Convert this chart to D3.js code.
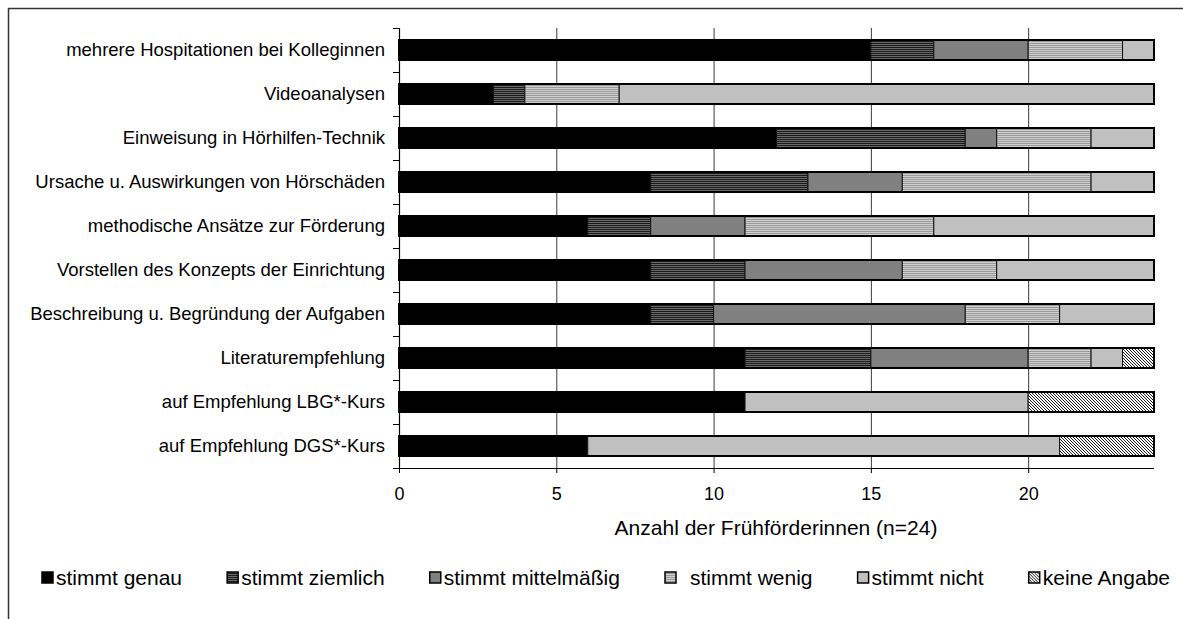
<!DOCTYPE html>
<html>
<head>
<meta charset="utf-8">
<script src="https://cdn.jsdelivr.net/npm/d3@7"></script>
<style>
  html, body { margin: 0; padding: 0; background: #fff; }
  svg { display: block; font-family: "Liberation Sans", Arial, sans-serif; }
</style>
</head>
<body>
<svg id="chart" width="1183" height="619"></svg>
<script>
// Items of the survey (top to bottom)
const categories = [
  "mehrere Hospitationen bei Kolleginnen",
  "Videoanalysen",
  "Einweisung in Hörhilfen-Technik",
  "Ursache u. Auswirkungen von Hörschäden",
  "methodische Ansätze zur Förderung",
  "Vorstellen des Konzepts der Einrichtung",
  "Beschreibung u. Begründung der Aufgaben",
  "Literaturempfehlung",
  "auf Empfehlung LBG*-Kurs",
  "auf Empfehlung DGS*-Kurs"
];

// Answer levels (stacking order, left to right)
const seriesNames = ["stimmt genau", "stimmt ziemlich", "stimmt mittelmäßig", "stimmt wenig", "stimmt nicht", "keine Angabe"];

// Counts per answer level, one value per category
const stimmtGenau      = [15,  3, 12,  8,  6,  8,  8, 11, 11,  6];
const stimmtZiemlich   = [ 2,  1,  6,  5,  2,  3,  2,  4,  0,  0];
const stimmtMittel     = [ 3,  0,  1,  3,  3,  5,  8,  5,  0,  0];
const stimmtWenig      = [ 3,  3,  3,  6,  6,  3,  3,  2,  0,  0];
const stimmtNicht      = [ 1, 17,  2,  2,  7,  5,  3,  1,  9, 15];
const keineAngabe      = [ 0,  0,  0,  0,  0,  0,  0,  1,  4,  3];

const xTicks = [0, 5, 10, 15, 20];
const xTitle = "Anzahl der Frühförderinnen (n=24)";

const seriesValues = [stimmtGenau, stimmtZiemlich, stimmtMittel, stimmtWenig, stimmtNicht, keineAngabe];
const rows = categories.map((c, i) => {
  const r = { category: c };
  seriesNames.forEach((s, j) => { r[s] = seriesValues[j][i]; });
  return r;
});

const svg = d3.select("#chart");
const defs = svg.append("defs");

// Fill patterns
const pZ = defs.append("pattern").attr("id", "pat-ziemlich").attr("patternUnits", "userSpaceOnUse")
  .attr("width", 4).attr("height", 2);
pZ.append("rect").attr("width", 4).attr("height", 2).attr("fill", "#6a6a6a");
pZ.append("rect").attr("y", 1).attr("width", 4).attr("height", 1).attr("fill", "#1a1a1a");

const pW = defs.append("pattern").attr("id", "pat-wenig").attr("patternUnits", "userSpaceOnUse")
  .attr("width", 4).attr("height", 2);
pW.append("rect").attr("width", 4).attr("height", 2).attr("fill", "#cfcfcf");
pW.append("rect").attr("y", 1).attr("width", 4).attr("height", 1).attr("fill", "#9a9a9a");

const pK = defs.append("pattern").attr("id", "pat-keine").attr("patternUnits", "userSpaceOnUse")
  .attr("width", 3).attr("height", 3);
pK.append("rect").attr("width", 3).attr("height", 3).attr("fill", "#fff");
pK.append("path").attr("d", "M-1,-1 L4,4 M-1,2 L1,4 M2,-1 L4,1")
  .attr("stroke", "#000").attr("stroke-width", 0.9);

const fills = {
  "stimmt genau": "#000",
  "stimmt ziemlich": "url(#pat-ziemlich)",
  "stimmt mittelmäßig": "#808080",
  "stimmt wenig": "url(#pat-wenig)",
  "stimmt nicht": "#c0c0c0",
  "keine Angabe": "url(#pat-keine)"
};

// Outer frame (top and left edges visible)
svg.append("path").attr("d", "M8.5,619 L8.5,8.5 L1183,8.5")
  .attr("fill", "none").attr("stroke", "#333").attr("stroke-width", 1.5);

const x = d3.scaleLinear().domain([0, 24]).range([399, 1154]);
const y = d3.scaleBand().domain(categories).range([28, 468])
  .paddingInner(24 / 44).paddingOuter(12 / 44);

// Vertical gridlines
svg.append("g").selectAll("line").data(xTicks.filter(d => d > 0)).join("line")
  .attr("x1", d => x(d) + 0.5).attr("x2", d => x(d) + 0.5)
  .attr("y1", 28).attr("y2", 468)
  .attr("stroke", "#3a3a3a").attr("stroke-width", 1);

// Stacked bars
const stack = d3.stack().keys(seriesNames)(rows);
const layers = svg.append("g").selectAll("g").data(stack).join("g")
  .attr("fill", d => fills[d.key]);
layers.selectAll("rect").data(d => d.filter(s => s[1] > s[0])).join("rect")
  .attr("x", d => x(d[0]))
  .attr("y", d => y(d.data.category))
  .attr("width", d => x(d[1]) - x(d[0]))
  .attr("height", y.bandwidth())
  .attr("stroke", "#111").attr("stroke-width", 1);

// Outline around each bar
svg.append("g").selectAll("rect").data(rows).join("rect")
  .attr("x", x(0))
  .attr("y", d => y(d.category))
  .attr("width", d => x(d3.sum(seriesNames, s => d[s])) - x(0))
  .attr("height", y.bandwidth())
  .attr("fill", "none").attr("stroke", "#000").attr("stroke-width", 2);

// X axis
const xAxis = svg.append("g").attr("transform", "translate(0,468)")
  .call(d3.axisBottom(x).tickValues(xTicks).tickSize(5).tickSizeOuter(0).tickPadding(14));
xAxis.select(".domain").attr("stroke", "#000").attr("stroke-width", 1.2)
  .attr("d", `M${x(0)},0.5H${x(24)}`);
xAxis.selectAll(".tick line").attr("stroke", "#000");
xAxis.selectAll("text").attr("font-size", 18).attr("fill", "#000")
  .attr("font-family", "'Liberation Sans', Arial, sans-serif");

// Y axis: line with ticks between categories
const yAxisG = svg.append("g");
yAxisG.append("line").attr("x1", 399.5).attr("x2", 399.5).attr("y1", 28).attr("y2", 468)
  .attr("stroke", "#000").attr("stroke-width", 1.2);
yAxisG.selectAll("line.tk").data(d3.range(categories.length + 1)).join("line")
  .attr("class", "tk")
  .attr("x1", 393).attr("x2", 399)
  .attr("y1", i => 28 + i * y.step() + 0.5).attr("y2", i => 28 + i * y.step() + 0.5)
  .attr("stroke", "#000");
yAxisG.selectAll("text").data(categories).join("text")
  .attr("x", 385).attr("y", d => y(d) + y.bandwidth() / 2)
  .attr("dy", "0.35em").attr("text-anchor", "end")
  .attr("font-size", 18.5).text(d => d);

// Axis title
svg.append("text").attr("x", 776).attr("y", 535).attr("text-anchor", "middle")
  .attr("font-size", 21).text(xTitle);

// Legend: items spread evenly between the left and right edges
const legendLeft = 42, legendRight = 1170, sw = 11, legendFont = 21;
const legend = svg.append("g").selectAll("g").data(seriesNames).join("g");
legend.append("rect").attr("y", 572).attr("width", sw).attr("height", sw)
  .attr("fill", d => fills[d]).attr("stroke", "#000").attr("stroke-width", 1.5);
const textOffset = d => d === "stimmt wenig" ? sw + 14 : sw + 3;
legend.append("text").attr("x", textOffset).attr("y", 585)
  .attr("font-size", legendFont).text(d => d);
const widths = [];
legend.each(function(d) {
  widths.push(textOffset(d) + d3.select(this).select("text").node().getComputedTextLength());
});
const gap = (legendRight - legendLeft - d3.sum(widths)) / (seriesNames.length - 1);
let cursor = legendLeft;
legend.each(function(d, i) {
  d3.select(this).attr("transform", `translate(${cursor},0)`);
  cursor += widths[i] + gap;
});
</script>
</body>
</html>
